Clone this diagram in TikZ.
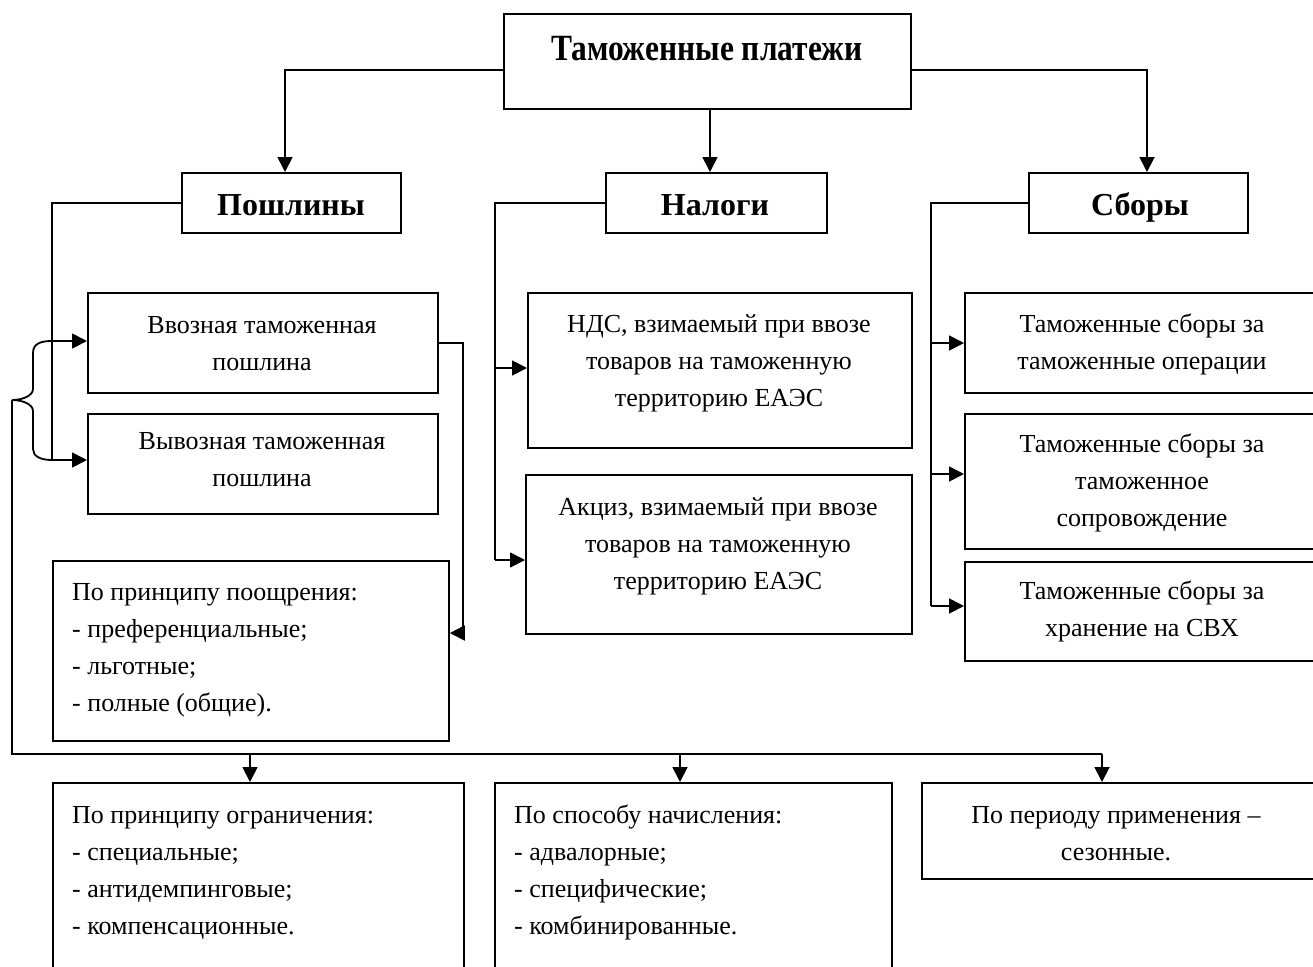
\documentclass[tikz,border=0pt]{standalone}
\usepackage{fontspec}
\setmainfont{Liberation Serif}
\usetikzlibrary{arrows.meta}
\begin{document}
\begin{tikzpicture}[x=1pt,y=-1pt,
  box/.style={draw, line width=1.8pt, rectangle, inner sep=0pt, anchor=north west},
  txt/.style={font=\fontsize{26}{37}\selectfont, inner sep=0pt, align=center, anchor=base},
  ltxt/.style={font=\fontsize{26}{37}\selectfont, inner sep=0pt, align=left, anchor=base west},
  btxt/.style={font=\fontsize{32}{38}\selectfont\bfseries, inner sep=0pt, anchor=base},
  conn/.style={line width=1.8pt},
  arr/.style={conn, -{Triangle[length=15pt,width=15pt]}}
]
\clip (0,0) rectangle (1313,966);
\fill[white] (0,0) rectangle (1313,966);

% boxes
\node[box, minimum width=407, minimum height=95] (top) at (503,13) {};
\node[box, minimum width=219, minimum height=60] (posh) at (181,172) {};
\node[box, minimum width=221, minimum height=60] (nal) at (605,172) {};
\node[box, minimum width=219, minimum height=60] (sbor) at (1028,172) {};
\node[box, minimum width=350, minimum height=100] (vvoz) at (87,292) {};
\node[box, minimum width=350, minimum height=100] (vyvoz) at (87,413) {};
\node[box, minimum width=396, minimum height=180] (poo) at (52,560) {};
\node[box, minimum width=384, minimum height=155] (nds) at (527,292) {};
\node[box, minimum width=386, minimum height=159] (akc) at (525,474) {};
\node[box, minimum width=370, minimum height=100] (sb1) at (964,292) {};
\node[box, minimum width=370, minimum height=135] (sb2) at (964,413) {};
\node[box, minimum width=370, minimum height=99] (sb3) at (964,561) {};
\node[box, minimum width=411, minimum height=220] (b1) at (52,782) {};
\node[box, minimum width=397, minimum height=220] (b2) at (494,782) {};
\node[box, minimum width=400, minimum height=96] (b3) at (921,782) {};

% texts (anchor = baseline of last line)
\node[btxt] (topT) at (707,60) {\scalebox{0.85}[1]{\fontsize{37}{40}\selectfont\bfseries Таможенные платежи}};
\node[btxt] (poshT) at (291,215) {Пошлины};
\node[btxt] (nalT) at (715,215) {Налоги};
\node[btxt] (sborT) at (1140,215) {Сборы};
\node[txt] (vvozT) at (262,370) {Ввозная таможенная\\пошлина};
\node[txt] (vyvozT) at (262,486) {Вывозная таможенная\\пошлина};
\node[ltxt] (pooT) at (72,711) {По принципу поощрения:\\- преференциальные;\\- льготные;\\- полные (общие).};
\node[txt] (ndsT) at (719,406) {НДС, взимаемый при ввозе\\товаров на таможенную\\территорию ЕАЭС};
\node[txt] (akcT) at (718,589) {Акциз, взимаемый при ввозе\\товаров на таможенную\\территорию ЕАЭС};
\node[txt] (sb1T) at (1142,369) {Таможенные сборы за\\таможенные операции};
\node[txt] (sb2T) at (1142,526) {Таможенные сборы за\\таможенное\\сопровождение};
\node[txt] (sb3T) at (1142,636) {Таможенные сборы за\\хранение на СВХ};
\node[ltxt] (b1T) at (72,934) {По принципу ограничения:\\- специальные;\\- антидемпинговые;\\- компенсационные.};
\node[ltxt] (b2T) at (514,934) {По способу начисления:\\- адвалорные;\\- специфические;\\- комбинированные.};
\node[txt] (b3T) at (1116,860) {По периоду применения –\\сезонные.};

% top connectors
\draw[arr] (top.west |- 0,70) -| (posh.north -| 285,0);
\draw[arr] (top.east |- 0,70) -| (sbor.north -| 1147,0);
\draw[arr] (top.south -| 710,0) -- (nal.north -| 710,0);

% Poshliny branch
\draw[arr] (posh.west) -| (52,460) -- (vyvoz.west |- 0,460);
\draw[arr] (52,341) -- (vvoz.west |- 0,341);
\draw[conn] (52,341) .. controls (40,341) and (33,344) .. (33,353) -- (33,389)
  .. controls (33,396) and (22,400) .. (12,400)
  .. controls (22,400) and (33,404) .. (33,411) -- (33,449)
  .. controls (33,456) and (40,460) .. (52,460);
\coordinate (j0) at (12,754);
\draw[conn] (12,400) -- (j0) -- (1102,754);
\draw[arr] (250,754) -- (b1.north -| 250,0);
\draw[arr] (680,754) -- (b2.north -| 680,0);
\draw[arr] (1102,754) -- (b3.north -| 1102,0);
\draw[arr] (vvoz.east |- 0,343) -| (463,633) -- (poo.east |- 0,633);

% Nalogi branch
\draw[conn] (nal.west) -| (495,560);
\draw[arr] (495,368) -- (nds.west |- 0,368);
\draw[arr] (495,560) -- (akc.west |- 0,560);

% Sbory branch
\draw[conn] (sbor.west) -| (931,606);
\draw[arr] (931,343) -- (sb1.west |- 0,343);
\draw[arr] (931,474) -- (sb2.west |- 0,474);
\draw[arr] (931,606) -- (sb3.west |- 0,606);
\end{tikzpicture}
\end{document}
